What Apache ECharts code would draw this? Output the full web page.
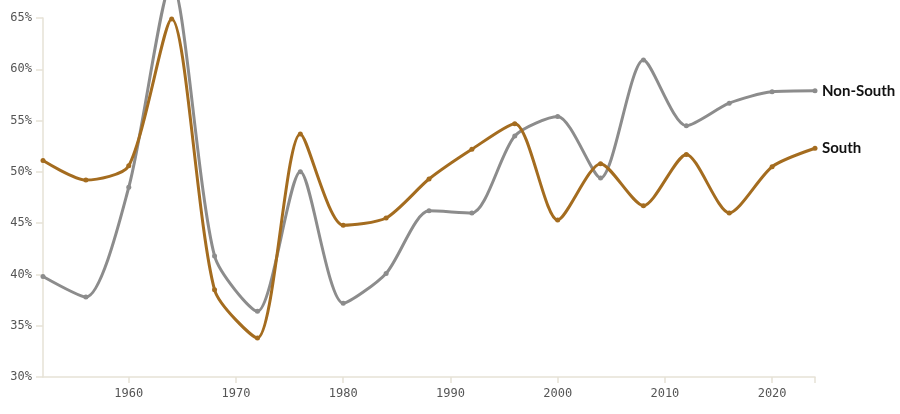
<!DOCTYPE html>
<html>
<head>
<meta charset="UTF-8">
<title>South vs Non-South</title>
<script src="https://cdn.jsdelivr.net/npm/echarts@6/dist/echarts.min.js"></script>
<style>
  html, body { margin: 0; padding: 0; background: #fff; }
  #main { width: 900px; height: 414px; }
</style>
</head>
<body>
<div id="main"></div>
<script>
// election years
var years = [1952, 1956, 1960, 1964, 1968, 1972, 1976, 1980, 1984, 1988,
             1992, 1996, 2000, 2004, 2008, 2012, 2016, 2020, 2024];
// share, percent
var nonSouth = [39.8, 37.8, 48.5, 68.5, 41.8, 36.4, 50.0, 37.2, 40.1, 46.2,
                46.0, 53.5, 55.4, 49.4, 60.9, 54.5, 56.7, 57.8, 57.9];
var south = [51.1, 49.2, 50.6, 64.9, 38.5, 33.8, 53.7, 44.8, 45.5, 49.3,
             52.2, 54.7, 45.3, 50.8, 46.7, 51.7, 46.0, 50.5, 52.3];
var xTicks = [1960, 1970, 1980, 1990, 2000, 2010, 2020];

function pairs(vals) {
  var out = [];
  for (var i = 0; i < years.length; i++) out.push([years[i], vals[i]]);
  return out;
}

var chart = echarts.init(document.getElementById('main'));

function mkSeries(name, vals, color) {
  return {
    name: name,
    type: 'line',
    data: pairs(vals),
    smooth: 0.25,
    clip: false,
    symbol: 'circle',
    symbolSize: 5,
    lineStyle: { width: 3, color: color },
    itemStyle: { color: color },
    endLabel: {
      show: true,
      formatter: '{a}',
      distance: 7,
      fontFamily: 'Lato',
      fontWeight: 'bold',
      fontSize: 15,
      color: '#111'
    },
    emphasis: { disabled: true }
  };
}

chart.setOption({
  animation: false,
  grid: { left: 43, right: 85, top: 18, bottom: 37 },
  xAxis: {
    type: 'value',
    min: 1952,
    max: 2024,
    axisLine: { show: true, lineStyle: { color: '#e6e2d6', width: 1.5 } },
    axisTick: {
      show: true,
      length: 6,
      customValues: xTicks.concat([2024]),
      lineStyle: { color: '#e6e2d6', width: 1.5 }
    },
    axisLabel: {
      customValues: xTicks,
      formatter: function (v) { return String(v); },
      margin: 11,
      fontFamily: 'DejaVu Sans Mono',
      fontSize: 12,
      color: '#555'
    },
    splitLine: { show: false }
  },
  yAxis: {
    type: 'value',
    min: 30,
    max: 65,
    interval: 5,
    axisLine: { show: true, lineStyle: { color: '#e6e2d6', width: 1.5 } },
    axisTick: { show: true, length: 7, lineStyle: { color: '#e6e2d6', width: 1.5 } },
    axisLabel: {
      formatter: '{value}%',
      margin: 11,
      fontFamily: 'DejaVu Sans Mono',
      fontSize: 12,
      color: '#555'
    },
    splitLine: { show: false }
  },
  series: [
    mkSeries('Non-South', nonSouth, '#8c8c8c'),
    mkSeries('South', south, '#a46c1f')
  ]
});
</script>
</body>
</html>
